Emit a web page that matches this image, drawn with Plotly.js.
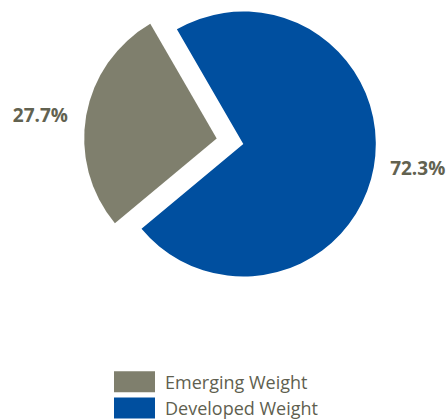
<!DOCTYPE html>
<html><head><meta charset="utf-8">
<script src="https://cdn.plot.ly/plotly-3.0.1.min.js"></script>
<style>html,body{margin:0;padding:0;background:#fff}#chart{width:446px;height:420px}</style>
</head><body><div id="chart"></div>
<script>
const categories = ['Emerging Weight', 'Developed Weight'];
const weights = [27.7, 72.3];
const sliceColors = ['#7f7f6d', '#004f9f'];
const pctLabels = weights.map(v => v.toFixed(1) + '%');

const W = 446, H = 420, R = 132.5;
const pad = '\u00a0';
function domainFor(cx, cy, r) {
  return {x: [(cx - r) / W, (cx + r) / W], y: [1 - (cy + r) / H, 1 - (cy - r) / H]};
}
const clear = 'rgba(0,0,0,0)';
const labelFont = {family: 'Open Sans', size: 19, color: '#626250', weight: 700};
function pieTrace(extra) {
  return Object.assign({
    type: 'pie', labels: categories, values: weights, sort: false,
    direction: 'clockwise', rotation: 230.2, textinfo: 'text',
    textposition: 'outside', hoverinfo: 'skip',
    outsidetextfont: labelFont, insidetextfont: labelFont
  }, extra);
}
const traces = [
  pieTrace({domain: domainFor(300, 200, 0.5), marker: {colors: sliceColors}, textinfo: 'none', showlegend: true}),
  pieTrace({domain: domainFor(243.3, 144, R), marker: {colors: [clear, sliceColors[1]]}, text: ['', pad.repeat(2) + pctLabels[1]], showlegend: false}),
  pieTrace({domain: domainFor(216.7, 138.5, R), marker: {colors: [sliceColors[0], clear]}, text: [pctLabels[0] + pad.repeat(2) + '\u200a', ''], showlegend: false})
];
const layout = {
  width: W, height: H, margin: {l: 0, r: 0, t: 0, b: 0, autoexpand: false},
  paper_bgcolor: '#fff', plot_bgcolor: '#fff',
  showlegend: true,
  legend: {orientation: 'v', xref: 'container', yref: 'container',
    x: 104 / W, xanchor: 'left', y: 1 - 363.5 / H, yanchor: 'top',
    itemwidth: 51,
    font: {family: 'Open Sans', size: 18, color: '#5f5f50'}, bgcolor: 'rgba(0,0,0,0)', traceorder: 'normal'}
};
Plotly.newPlot('chart', traces, layout, {staticPlot: true, displayModeBar: false}).then(function (gd) {
  gd.querySelectorAll('.legend .legendpoints path').forEach(function (p) {
    p.setAttribute('d', 'M20.5,10.5H-20.5V-10.5H20.5Z');
  });
  gd.querySelectorAll('.legend .scrollbox').forEach(function (g) {
    g.removeAttribute('clip-path');
  });
  gd.querySelectorAll('.legend .scrollbar').forEach(function (s) {
    s.style.display = 'none';
  });
});
</script></body></html>
